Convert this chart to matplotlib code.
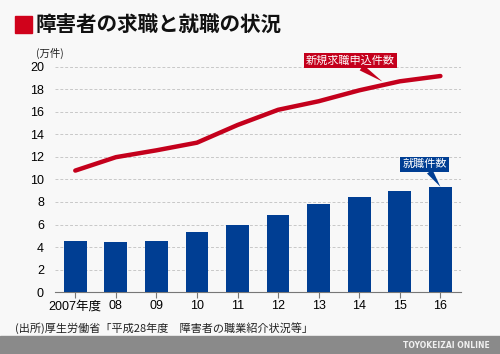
import matplotlib.pyplot as plt
from matplotlib.patches import Rectangle

plt.rcParams['font.family'] = ['Liberation Sans', 'Noto Sans CJK JP', 'DejaVu Sans']

# データ（万件）
years = ['2007年度', '08', '09', '10', '11', '12', '13', '14', '15', '16']
applications = [10.79, 11.98, 12.59, 13.27, 14.84, 16.19, 16.95, 17.92, 18.72, 19.19]
placements = [4.56, 4.45, 4.53, 5.29, 5.94, 6.83, 7.79, 8.46, 9.02, 9.32]

red = '#c4001c'
blue = '#003e93'
bg = '#f8f8f8'

fig = plt.figure(figsize=(5, 3.54), dpi=100, facecolor=bg)
ax = fig.add_axes([0.11, 0.175, 0.813, 0.636])
ax.set_facecolor(bg)

x = list(range(len(years)))
ax.grid(axis='y', linestyle=(0, (3, 2)), color='#c8c8c8', linewidth=0.7, zorder=0)
ax.bar(x, placements, width=0.56, color=blue, zorder=3)
ax.plot(x, applications, color=red, linewidth=3.2, solid_capstyle='round', zorder=4, clip_on=False)

ax.set_xlim(-0.5, 9.52)
ax.set_ylim(0, 20)
ax.set_yticks(range(0, 21, 2))
ax.set_xticks(x)
ax.set_xticklabels(years)
ax.tick_params(axis='y', length=0, labelsize=9, pad=8)
ax.tick_params(axis='x', length=4, color='#777777', labelsize=9, pad=2)
for s in ['top', 'right', 'left']:
    ax.spines[s].set_visible(False)
ax.spines['bottom'].set_color('#777777')

# 系列ラベル
ax.annotate('新規求職申込件数', xy=(7.57, 18.7), xytext=(6.78, 20.6),
            ha='center', va='center', fontsize=8, color='white',
            family=['Noto Sans CJK JP'],
            bbox=dict(boxstyle='square,pad=0.2', fc=red, ec='none'),
            arrowprops=dict(arrowstyle='wedge,tail_width=0.6', fc=red, ec='none',
                            shrinkA=0, shrinkB=0),
            annotation_clip=False, zorder=6)
ax.annotate('就職件数', xy=(9.0, 9.35), xytext=(8.61, 11.35),
            ha='center', va='center', fontsize=8, color='white',
            family=['Noto Sans CJK JP'],
            bbox=dict(boxstyle='square,pad=0.2', fc=blue, ec='none'),
            arrowprops=dict(arrowstyle='wedge,tail_width=0.6', fc=blue, ec='none',
                            shrinkA=0, shrinkB=0),
            annotation_clip=False, zorder=6)

# タイトル
fig.patches.append(Rectangle((15 / 500, 1 - 33 / 354), 17 / 500, 17 / 354,
                             transform=fig.transFigure, color='#d0021b'))
fig.text(36 / 500, 1 - 24 / 354, '障害者の求職と就職の状況', fontsize=14.8, fontweight='bold',
         va='center', ha='left', color='#111111', family=['Noto Sans CJK JP'])
fig.text(36 / 500, 1 - 53 / 354, '(万件)', fontsize=7.5, va='center', ha='left', color='#222222',
         family=['Noto Sans CJK JP'])

# 出所
fig.text(15 / 500, 1 - 328 / 354, '(出所)厚生労働省「平成28年度　障害者の職業紹介状況等」',
         fontsize=8, va='center', ha='left', color='#222222', family=['Noto Sans CJK JP'])

# フッター
fig.patches.append(Rectangle((0, 0), 1, 18 / 354, transform=fig.transFigure, color='#8a8a8a'))
fig.text(490 / 500, 9 / 354, 'TOYOKEIZAI ONLINE', fontsize=5.5, fontweight='bold',
         color='#f0f0f0', va='center', ha='right', family=['DejaVu Sans'])

fig.savefig('out.png', dpi=100, facecolor=bg)
